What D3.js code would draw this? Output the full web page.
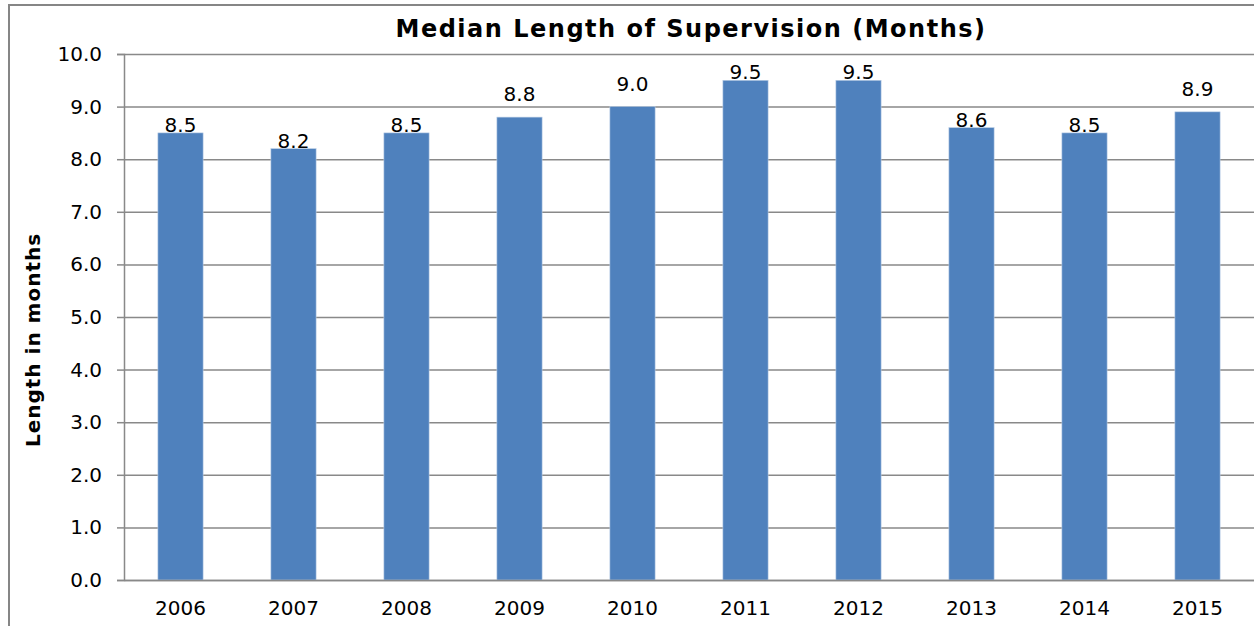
<!DOCTYPE html>
<meta charset="utf-8">
<style>
body { margin: 0; background: #fff; }
text { font-family: "DejaVu Sans", Verdana, sans-serif; fill: #000; }
.grid line { stroke: #898989; stroke-width: 1.5px; }
.grid path { display: none; }
</style>
<body>
<script src="https://d3js.org/d3.v7.min.js"></script>
<script>

// chart data
var years = ["2006", "2007", "2008", "2009", "2010", "2011", "2012", "2013", "2014", "2015"];
var months = [8.5, 8.2, 8.5, 8.8, 9.0, 9.5, 9.5, 8.6, 8.5, 8.9];
var yTicks = [0, 1, 2, 3, 4, 5, 6, 7, 8, 9, 10];

// labels were dragged around in the original, so nudge a few up
var labelNudge = [0, 0, 0, 1, 1, 0, 0, 0, 0, 1];

var W = 1254, H = 626;
var plotLeft = 124, plotRight = 1254, plotTop = 54, plotBottom = 580;

var svg = d3.select("body").append("svg")
    .attr("width", W)
    .attr("height", H);

// outer chart frame
svg.append("rect")
    .attr("x", 9).attr("y", 5)
    .attr("width", W + 10).attr("height", H + 10)
    .attr("fill", "none")
    .attr("stroke", "#868686")
    .attr("stroke-width", 2);

var x = d3.scaleBand()
    .domain(years)
    .range([plotLeft, plotRight])
    .paddingInner(0.6)
    .paddingOuter(0.3);

var y = d3.scaleLinear()
    .domain([0, 10])
    .range([plotBottom, plotTop]);

// gridlines
svg.append("g")
    .attr("class", "grid")
    .attr("transform", "translate(" + plotLeft + ",0)")
    .call(d3.axisRight(y).tickValues(yTicks).tickSize(plotRight - plotLeft).tickFormat(""));

// bars
svg.selectAll(".bar")
    .data(months)
  .enter().append("rect")
    .attr("class", "bar")
    .attr("x", function(d, i) { return x(years[i]); })
    .attr("y", function(d) { return y(d); })
    .attr("width", x.bandwidth())
    .attr("height", function(d) { return y(0) - y(d); })
    .attr("fill", "#4F81BD")
    .attr("stroke", "#B9CDE5")
    .attr("stroke-width", 0.6);

// value labels
svg.selectAll(".lbl")
    .data(months)
  .enter().append("text")
    .attr("class", "lbl")
    .attr("x", function(d, i) { return x(years[i]) + x.bandwidth() / 2; })
    .attr("y", function(d, i) { return y(d) - 1 - labelNudge[i] * 15; })
    .attr("text-anchor", "middle")
    .attr("font-size", "20px")
    .text(function(d) { return d.toFixed(1); });

// y axis
var yAxis = svg.append("g")
    .attr("transform", "translate(" + plotLeft + ",0)")
    .call(d3.axisLeft(y).tickValues(yTicks).tickSize(7).tickPadding(15)
      .tickFormat(function(d) { return d.toFixed(1); }));
yAxis.select(".domain").attr("stroke", "#898989").attr("stroke-width", 1.5);
yAxis.selectAll(".tick line").attr("stroke", "#898989").attr("stroke-width", 1.5);
yAxis.selectAll("text").attr("font-size", "20px").attr("font-family", null);

// x axis
var xAxis = svg.append("g")
    .attr("transform", "translate(0," + plotBottom + ")")
    .call(d3.axisBottom(x).tickSize(0).tickPadding(21));
xAxis.select(".domain").attr("stroke", "#898989").attr("stroke-width", 1.5);
xAxis.selectAll("text").attr("font-size", "20px").attr("font-family", null);

// titles
svg.append("text")
    .attr("x", 691)
    .attr("y", 37)
    .attr("text-anchor", "middle")
    .attr("font-size", "24px")
    .attr("font-weight", "bold")
    .attr("letter-spacing", "1.5px")
    .text("Median Length of Supervision (Months)");

svg.append("text")
    .attr("transform", "translate(40,340) rotate(-90)")
    .attr("text-anchor", "middle")
    .attr("font-size", "20px")
    .attr("font-weight", "bold")
    .attr("letter-spacing", "1px")
    .text("Length in months");

</script>
</body>
